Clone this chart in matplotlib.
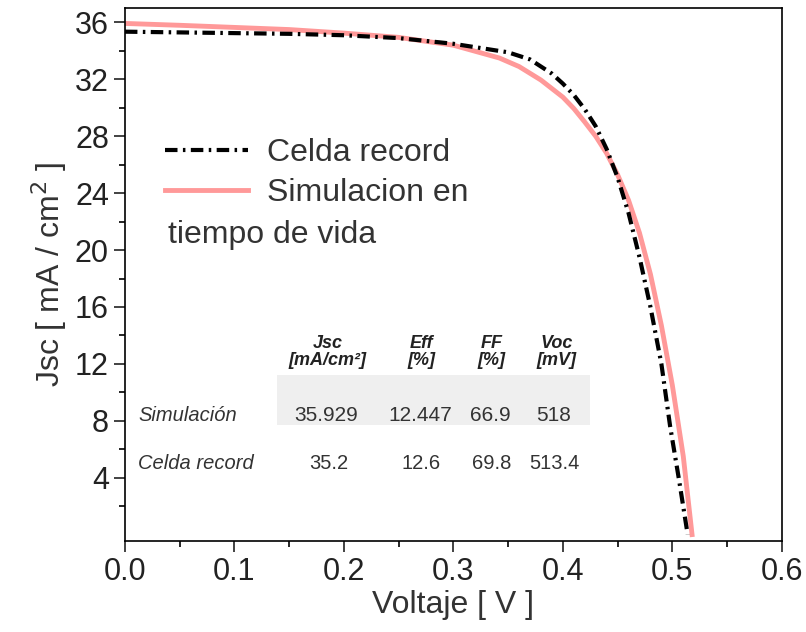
import numpy as np
import matplotlib.pyplot as plt
from matplotlib.patches import Rectangle

plt.rcParams['font.family'] = ['Liberation Sans', 'DejaVu Sans']

# curva J-V medida (celda record)
v_rec = [0, 0.05, 0.1, 0.15, 0.2, 0.25, 0.3, 0.35, 0.37, 0.39, 0.40, 0.41, 0.42, 0.43,
         0.44, 0.45, 0.46, 0.47, 0.48, 0.49, 0.498, 0.506, 0.514]
j_rec = [35.35, 35.3, 35.25, 35.2, 35.1, 34.9, 34.5, 33.9, 33.4, 32.4, 31.7, 30.9, 29.9, 28.7,
         27.1, 25.1, 22.6, 19.5, 16.0, 12.0, 7.6, 3.9, 0]

# curva simulada
v_sim = [0, 0.05, 0.1, 0.15, 0.2, 0.25, 0.3, 0.342, 0.36, 0.38, 0.40, 0.41, 0.42, 0.43,
         0.44, 0.45, 0.46, 0.47, 0.48, 0.49, 0.50, 0.51, 0.518]
j_sim = [35.93, 35.8, 35.65, 35.5, 35.25, 34.95, 34.4, 33.5, 32.9, 31.95, 30.75, 29.95, 29.0, 28.0,
         26.8, 25.3, 23.5, 21.2, 18.3, 14.7, 10.5, 5.5, 0]

# tabla de parametros
col_heads = ['Jsc\n[mA/cm²]', 'Eff\n[%]', 'FF\n[%]', 'Voc\n[mV]']
row_names = ['Simulación', 'Celda record']
vals_sim = ['35.929', '12.447', '66.9', '518']
vals_rec = ['35.2', '12.6', '69.8', '513.4']

fig = plt.figure(figsize=(8.06, 6.32), dpi=100)
ax = fig.add_axes([0.155, 0.144, 0.815, 0.843])

ax.plot(v_sim, j_sim, color='#ff9999', lw=3.5, label='Simulacion en', zorder=2)
ax.plot(v_rec, j_rec, color='black', lw=3, ls=(0, (3, 1.3, 0.6, 1.3)),
        label='Celda record', zorder=3)

ax.set_xlim(0, 0.6)
ax.set_ylim(-0.45, 37.0)
ax.set_xticks(np.arange(0, 0.61, 0.1))
ax.set_xticks(np.arange(0.05, 0.6, 0.1), minor=True)
ax.set_yticks(np.arange(4, 37, 4))
ax.set_yticks(np.arange(2, 37, 4), minor=True)
ax.tick_params(which='major', length=8, width=1.2, labelsize=22, colors='#222222')
ax.tick_params(which='minor', length=4, width=1.2)
for s in ax.spines.values():
    s.set_linewidth(1.2)

ax.set_xlabel('Voltaje [ V ]', fontsize=23, color='#333333', labelpad=2)
ax.set_ylabel('Jsc [ mA / cm$^2$ ]', fontsize=23, color='#333333', labelpad=4)

h, l = ax.get_legend_handles_labels()
leg = ax.legend(h[::-1], l[::-1], loc='upper left', bbox_to_anchor=(0.061, 0.756),
                frameon=False, fontsize=23, handlelength=2.6, handletextpad=0.6,
                labelspacing=0.3, borderpad=0, borderaxespad=0, labelcolor='#333333')
ax.text(0.0393, 21.05, 'tiempo de vida', fontsize=23, color='#333333', va='center')

# fondo gris de la fila simulada
ax.add_patch(Rectangle((0.1388, 7.70), 0.2859, 3.51, color='#efefef', zorder=1, lw=0))

head_x = [0.1854, 0.271, 0.335, 0.3945]
for x, t in zip(head_x, col_heads):
    ax.text(x, 12.83, t, fontsize=13, fontweight='bold', style='italic',
            ha='center', va='center', color='#222222', linespacing=1.05)

ax.text(0.012, 8.4, row_names[0], fontsize=14.5, style='italic', va='center', color='#333333')
ax.text(0.012, 5.03, row_names[1], fontsize=14.5, style='italic', va='center', color='#333333')

sim_x = [0.1836, 0.2694, 0.3338, 0.3918]
rec_x = [0.1858, 0.2703, 0.3347, 0.3922]
for x, t in zip(sim_x, vals_sim):
    ax.text(x, 8.4, t, fontsize=15, ha='center', va='center', color='#333333')
for x, t in zip(rec_x, vals_rec):
    ax.text(x, 5.03, t, fontsize=14.5, ha='center', va='center', color='#333333')

fig.savefig('out.png', dpi=100)
